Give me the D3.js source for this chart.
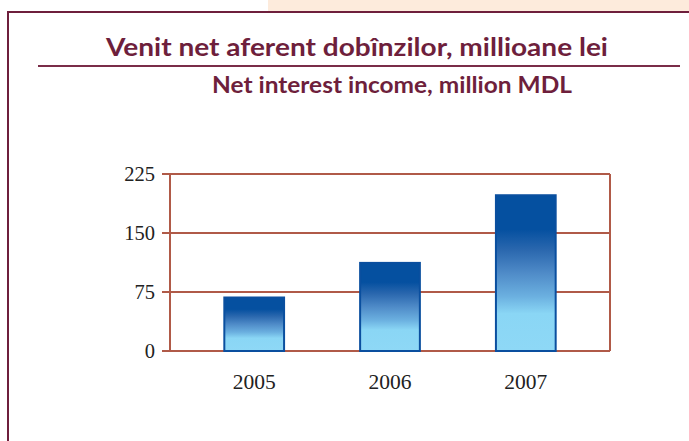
<!DOCTYPE html>
<html><head><meta charset="utf-8">
<script src="https://cdn.jsdelivr.net/npm/d3@7/dist/d3.min.js"></script>
<style>body{margin:0;background:#fff;}svg{display:block;}</style>
</head><body>
<svg id="c" width="689" height="441"></svg>
<script>
const categories = ["2005", "2006", "2007"];
const values = [68, 112, 198];
const yTicks = [0, 75, 150, 225];
const titleRo = "Venit net aferent dobînzilor, millioane lei";
const titleEn = "Net interest income, million MDL";

const svg = d3.select("#c");
const maroon = "#6e1f3c";
const grid = "#b05a48";

// decorative page frame
svg.append("rect").attr("x", 268).attr("y", 0).attr("width", 421).attr("height", 11).attr("fill", "#fdebdc");
svg.append("line").attr("x1", 7).attr("x2", 689).attr("y1", 12).attr("y2", 12).attr("stroke", maroon).attr("stroke-width", 2);
svg.append("line").attr("x1", 8).attr("x2", 8).attr("y1", 12).attr("y2", 441).attr("stroke", maroon).attr("stroke-width", 2);

svg.append("text").attr("x", 106).attr("y", 56)
  .attr("font-family", "Lato, 'Open Sans', sans-serif").attr("font-weight", "bold").attr("font-size", 24)
  .attr("textLength", 502).attr("lengthAdjust", "spacingAndGlyphs")
  .attr("fill", maroon).text(titleRo);
svg.append("line").attr("x1", 38).attr("x2", 680).attr("y1", 66).attr("y2", 66).attr("stroke", "#7a2d48").attr("stroke-width", 2);
svg.append("text").attr("x", 212).attr("y", 93)
  .attr("font-family", "Lato, 'Open Sans', sans-serif").attr("font-weight", "bold").attr("font-size", 22)
  .attr("textLength", 360).attr("lengthAdjust", "spacingAndGlyphs")
  .attr("fill", maroon).text(titleEn);

// gradient
const defs = svg.append("defs");
const g = defs.append("linearGradient").attr("id", "barGrad").attr("x1", 0).attr("y1", 0).attr("x2", 0).attr("y2", 1);
[[0, "#0550a0"], [0.22, "#0550a0"], [0.35, "#2a67ae"], [0.5, "#4f8bc8"], [0.65, "#6bb0e0"], [0.76, "#8ad6f5"], [1, "#8ed8f6"]]
  .forEach(([o, c]) => g.append("stop").attr("offset", o).attr("stop-color", c));

const x0 = 170, x1 = 610, yTop = 174, yBot = 351;
const x = d3.scaleBand().domain(categories).range([x0, x1]).paddingInner(0.56).paddingOuter(0.4);
const y = d3.scaleLinear().domain([0, 225]).range([yBot, yTop]);

// gridlines
svg.append("g").selectAll("line").data(yTicks).join("line")
  .attr("x1", x0 - 8).attr("x2", x1).attr("y1", d => y(d)).attr("y2", d => y(d))
  .attr("stroke", grid).attr("stroke-width", 2);
// frame verticals
svg.append("line").attr("x1", x0).attr("x2", x0).attr("y1", yTop).attr("y2", yBot).attr("stroke", grid).attr("stroke-width", 2);
svg.append("line").attr("x1", x1).attr("x2", x1).attr("y1", yTop).attr("y2", yBot).attr("stroke", grid).attr("stroke-width", 2);

// y labels
svg.append("g").selectAll("text").data(yTicks).join("text")
  .attr("x", 155).attr("y", d => y(d) + 7).attr("text-anchor", "end")
  .attr("font-family", "'Liberation Serif', 'DejaVu Serif', serif").attr("font-size", 20.5).attr("fill", "#222")
  .text(d => d);

// bars
svg.append("g").selectAll("rect").data(values).join("rect")
  .attr("x", (d, i) => x(categories[i])).attr("width", x.bandwidth())
  .attr("y", d => y(d)).attr("height", d => y(0) - y(d))
  .attr("fill", "url(#barGrad)").attr("stroke", "#0a4f9f").attr("stroke-width", 2);

// x labels
svg.append("g").selectAll("text").data(categories).join("text")
  .attr("x", d => x(d) + x.bandwidth() / 2).attr("y", 389).attr("text-anchor", "middle")
  .attr("font-family", "'Liberation Serif', 'DejaVu Serif', serif").attr("font-size", 21.5).attr("fill", "#222")
  .text(d => d);
</script>
</body></html>
